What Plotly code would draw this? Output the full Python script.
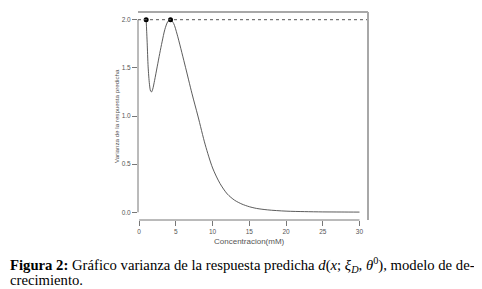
import plotly.graph_objects as go

# Data
concentracion = [0.95, 1.02, 1.09, 1.22, 1.4, 1.55, 1.68, 1.85, 2.1, 2.45, 2.8, 3.12, 3.5, 3.9, 4.27,
                 4.7, 5.16, 6.2, 7.2, 8.0, 9.0, 10.0, 11.0, 12.0, 13.0, 14.0, 15.0, 16.0, 17.5,
                 20.0, 22.5, 25.0, 27.5, 30.0]
varianza = [2.0, 1.88, 1.76, 1.51, 1.33, 1.26, 1.25, 1.28, 1.37, 1.51, 1.65, 1.77, 1.90, 1.98, 2.0,
            1.96, 1.85, 1.54, 1.23, 1.0, 0.70, 0.46, 0.30, 0.19, 0.125, 0.085, 0.058, 0.04, 0.025,
            0.012, 0.007, 0.004, 0.003, 0.002]
puntos_x = [0.95, 4.27]
puntos_y = [2.0, 2.0]
x_ticks = [0, 5, 10, 15, 20, 25, 30]
y_ticks = [0.0, 0.5, 1.0, 1.5, 2.0]
y_ticklabels = ["0.0", "0.5", "1.0", "1.5", "2.0"]
nivel = 2.0

tickfont = dict(family="Liberation Sans, Arial, sans-serif", size=6.5, color="#555555")

fig = go.Figure()
fig.add_trace(go.Scatter(x=concentracion, y=varianza, mode="lines",
                         line=dict(color="#4a4a4a", width=0.9, shape="spline", smoothing=0.8),
                         hoverinfo="skip"))
fig.add_trace(go.Scatter(x=puntos_x, y=puntos_y, mode="markers",
                         marker=dict(color="black", size=5), hoverinfo="skip"))

# dotted reference line
fig.add_shape(type="line", xref="paper", yref="y", x0=0, x1=1, y0=nivel, y1=nivel,
              line=dict(color="#555555", width=1, dash="dot"))
# R-style axis lines (tick span only)
fig.add_shape(type="line", xref="x", yref="paper", x0=x_ticks[0], x1=x_ticks[-1], y0=0, y1=0,
              line=dict(color="#777777", width=1))
fig.add_shape(type="line", xref="paper", yref="y", x0=0, x1=0, y0=y_ticks[0], y1=y_ticks[-1],
              line=dict(color="#777777", width=1))
# grey frame at top and right
fig.add_shape(type="line", xref="paper", yref="paper", x0=0, x1=1.0, y0=1, y1=1,
              line=dict(color="#a8a8a8", width=2))
fig.add_shape(type="line", xref="paper", yref="paper", x0=1, x1=1, y0=0, y1=1,
              line=dict(color="#a8a8a8", width=2))

fig.update_xaxes(range=[-0.16, 31.16], tickvals=x_ticks, ticks="outside", ticklen=5,
                 tickcolor="#777777", showline=False, showgrid=False, zeroline=False,
                 tickfont=tickfont)
fig.update_yaxes(range=[-0.08, 2.08], tickvals=y_ticks, ticktext=y_ticklabels, ticks="outside",
                 ticklen=5, tickcolor="#777777", showline=False, showgrid=False, zeroline=False,
                 tickfont=tickfont)

fig.add_annotation(text="Concentracion(mM)", xref="x", yref="paper", x=15, y=0, yshift=-21,
                   showarrow=False, font=dict(tickfont, size=8), yanchor="middle")
fig.add_annotation(text="Varianza de la respuesta predicha", xref="paper", yref="y", x=0, y=1.0,
                   xshift=-22, textangle=-90, showarrow=False, font=dict(tickfont, size=6.2),
                   xanchor="center")

capfont = dict(family="Liberation Serif, Times New Roman, serif", size=14.7, color="black")
fig.add_annotation(text="<b>Figura 2:</b> Gráfico varianza de la respuesta predicha "
                        "<i>d</i>(<i>x</i>; <i>ξ</i><sub><i>D</i></sub>, <i>θ</i><sup>0</sup>), modelo de de-",
                   xref="paper", yref="paper", x=-130/230.5, y=0, yshift=-45, xanchor="left",
                   yanchor="middle", showarrow=False, font=capfont, align="left")
fig.add_annotation(text="crecimiento.", xref="paper", yref="paper", x=-130/230.5, y=0, yshift=-60,
                   xanchor="left", yanchor="middle", showarrow=False, font=capfont, align="left")

# page body has an 8px margin, so the figure is placed at (8, 8) in the window
fig.update_layout(width=474, height=281, margin=dict(l=130, r=113.5, t=4.3, b=69.3),
                  paper_bgcolor="white", plot_bgcolor="white", showlegend=False)

fig.write_html("out.html")
